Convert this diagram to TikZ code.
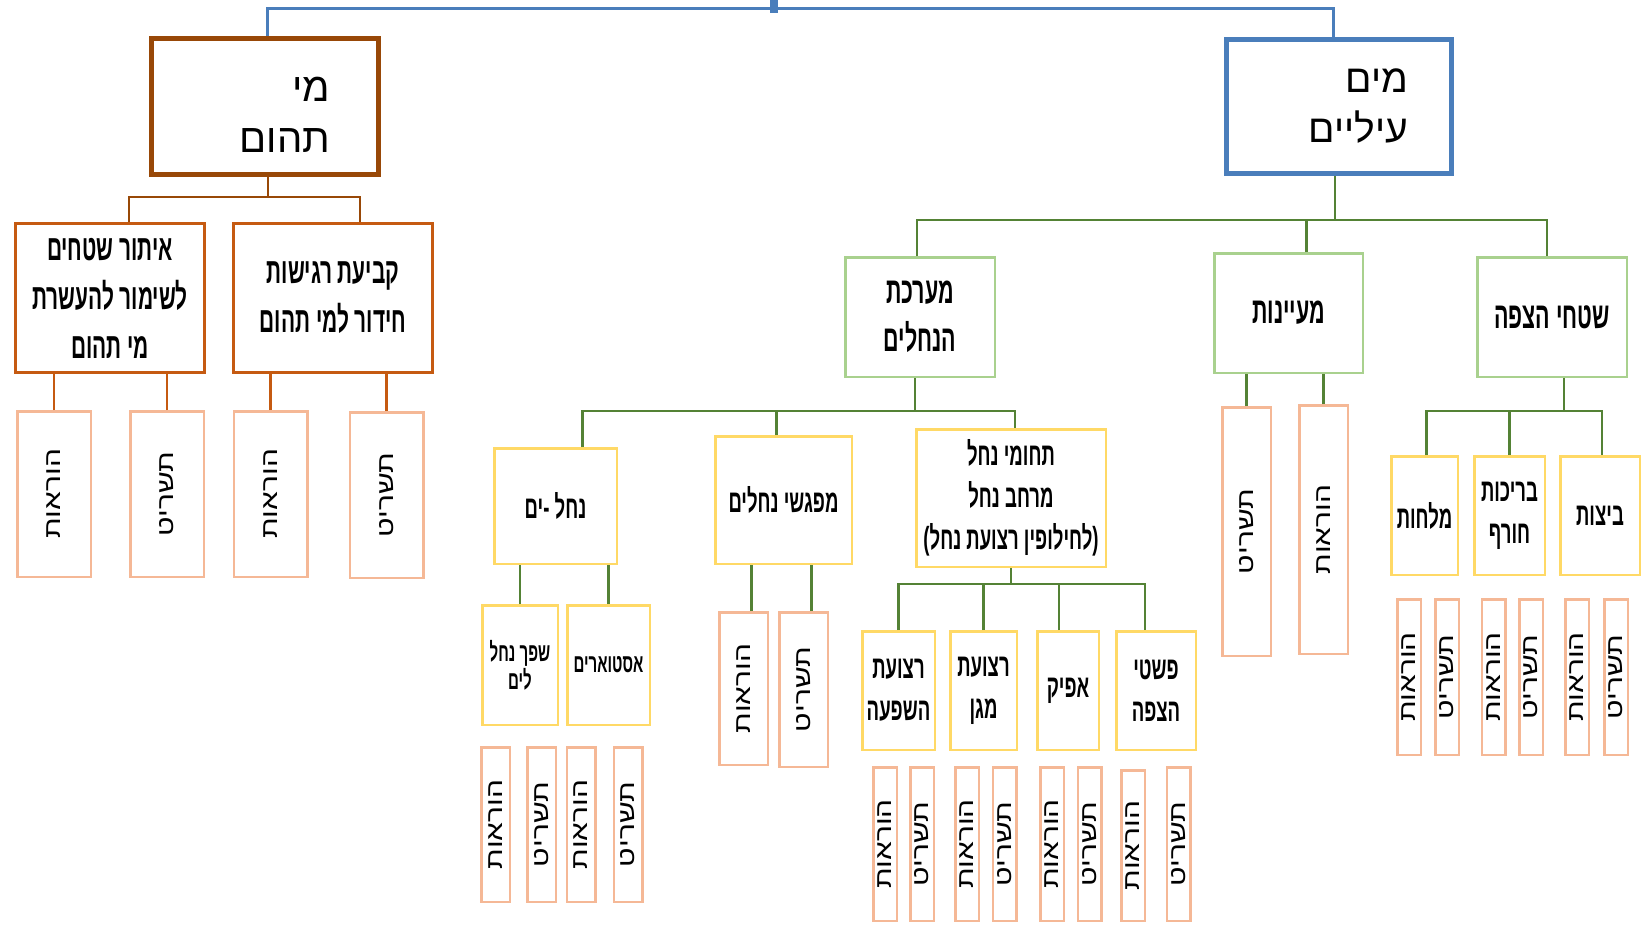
\documentclass[tikz,border=0pt]{standalone}
\usepackage{fontspec}
\usepackage{graphicx}
\TeXXeTstate=1
\newfontfamily\hebfont[Script=Hebrew]{Liberation Sans}
\newfontfamily\hebnarrow[Script=Hebrew,FakeStretch=0.58]{Liberation Sans}
\newfontfamily\hebwide[Script=Hebrew,FakeStretch=1.3]{Liberation Sans}
\usepackage{tikz}
\definecolor{cBlue}{HTML}{4A7EBB}
\definecolor{cBrown}{HTML}{984807}
\definecolor{cOrange}{HTML}{C55A11}
\definecolor{cPeach}{HTML}{F5B896}
\definecolor{cLime}{HTML}{A9D18E}
\definecolor{cGreen}{HTML}{548235}
\definecolor{cGold}{HTML}{FFD966}
\newcommand{\rl}[1]{\beginR#1\endR}
\newcommand{\vrl}[1]{\rotatebox{90}{\rl{#1}}}
\tikzset{
  dims/.style 2 args={minimum width=#1pt,minimum height=#2pt},
  box-top/.style={draw,line width=5pt,inner sep=0pt,align=right},
  box-orange/.style={draw=cOrange,line width=3pt,inner sep=0pt,align=center,
    font=\hebnarrow\bfseries\fontsize{36}{49}\selectfont},
  box-green/.style={draw=cLime,line width=2.5pt,inner sep=0pt,align=center,
    font=\hebnarrow\bfseries\fontsize{37}{48}\selectfont},
  box-gold/.style={draw=cGold,line width=2.5pt,inner sep=0pt,align=center,
    font=\hebnarrow\bfseries\fontsize{32}{42}\selectfont},
  box-small/.style={box-gold,font=\hebnarrow\bfseries\fontsize{26}{28}\selectfont},
  box-leaf/.style={draw=cPeach,line width=2.5pt,inner sep=0pt,
    font=\hebwide\fontsize{23}{26}\selectfont},
  link-blue/.style={draw=cBlue,line width=3pt},
  link-root/.style={draw=cBlue,line width=8pt},
  link-brown/.style={draw=cBrown,line width=2.5pt},
  link-orange/.style={draw=cOrange,line width=2.5pt},
  link-green/.style={draw=cGreen,line width=2.5pt},
}
\begin{document}
\begin{tikzpicture}[x=1pt,y=-1pt]
  \useasboundingbox (0,0) rectangle (1642,932);
  \fill[white] (0,0) rectangle (1642,932);

  % top level
  \node[box-top,draw=cBrown,dims={227}{136},text width=130pt,
    font=\hebfont\fontsize{40}{51}\selectfont] (tehom) at (265,106.5)
    {\rule{0pt}{40pt}\rl{מי}\\\rl{תהום}};
  \node[box-top,draw=cBlue,dims={225}{134},text width=138pt,
    font=\hebfont\fontsize{39}{50}\selectfont] (mayim) at (1339,106.5) {\rl{מים}\\\rl{עיליים}};
  \coordinate (root) at (774,0);
  \coordinate (bus-top) at (774,8);
  \coordinate (stub-end) at (774,13);
  \draw[link-root] (root) -- (stub-end);
  \draw[link-blue] ([xshift=2pt]tehom.north) |- (bus-top) -| ([xshift=-6pt]mayim.north);

  % groundwater branch
  \node[box-orange,dims={189}{149}] (itur) at (110,298)
    {\rl{איתור שטחים}\\\rl{לשימור להעשרת}\\\rl{מי תהום}};
  \node[box-orange,dims={199}{149}] (kviat) at (333,298)
    {\rl{קביעת רגישות}\\\rl{חידור למי תהום}};
  \draw[link-brown] ([xshift=3pt]tehom.south) -- ++(0,20) coordinate (bus-tehom);
  \draw[link-brown] ([xshift=19pt]itur.north) |- (bus-tehom) -| ([xshift=27pt]kviat.north);

  \node[box-leaf,dims={73.5}{165.5}] (itur-hor) at (54,494) {\vrl{הוראות}};
  \node[box-leaf,dims={73.5}{165.5}] (itur-tas) at (167,494) {\vrl{תשריט}};
  \node[box-leaf,dims={73.5}{165.5}] (kviat-hor) at (270.5,494) {\vrl{הוראות}};
  \node[box-leaf,dims={73.5}{165.5}] (kviat-tas) at (386.5,495) {\vrl{תשריט}};
  \draw[link-orange] (itur-hor.north) -- (itur-hor.north |- itur.south);
  \draw[link-orange] (itur-tas.north) -- (itur-tas.north |- itur.south);
  \draw[link-orange] (kviat-hor.north) -- (kviat-hor.north |- kviat.south);
  \draw[link-orange] (kviat-tas.north) -- (kviat-tas.north |- kviat.south);

  % surface water branch
  \node[box-green,dims={149.5}{119.5}] (maarechet) at (920,317) {\rl{מערכת}\\\rl{הנחלים}};
  \node[box-green,dims={148.5}{119.5}] (maayanot) at (1288.5,313) {\rl{מעיינות}};
  \node[box-green,dims={149.5}{119.5}] (shetah) at (1552,317) {\rl{שטחי הצפה}};
  \draw[link-green] ([xshift=-4pt]mayim.south) -- ++(0,44) coordinate (bus-mayim);
  \draw[link-green] ([xshift=-3pt]maarechet.north) |- (bus-mayim) -| ([xshift=-5pt]shetah.north);
  \draw[link-green] ([xshift=18pt]maayanot.north) -- ++(0,-32);

  % springs
  \node[box-leaf,dims={48.5}{248.5}] (maay-tas) at (1246.5,531.5) {\vrl{תשריט}};
  \node[box-leaf,dims={48.5}{248.5}] (maay-hor) at (1323.5,529.5) {\vrl{הוראות}};
  \draw[link-green] (maay-tas.north) -- (maay-tas.north |- maayanot.south);
  \draw[link-green] (maay-hor.north) -- (maay-hor.north |- maayanot.south);

  % flood areas
  \node[box-gold,dims={66.5}{118.5}] (melahot) at (1424.5,515.5) {\rl{מלחות}};
  \node[box-gold,dims={70.5}{118.5}] (brechot) at (1509.5,515.5) {\rl{בריכות}\\\rl{חורף}};
  \node[box-gold,dims={79.5}{118.5}] (bitzot) at (1600,515.5) {\rl{ביצות}};
  \draw[link-green] ([xshift=12pt]shetah.south) -- ++(0,33) coordinate (bus-shetah);
  \draw[link-green] ([xshift=2pt]melahot.north) |- (bus-shetah) -| ([xshift=2pt]bitzot.north);
  \draw[link-green] (brechot.north) -- (brechot.north |- bus-shetah);

  \node[box-leaf,dims={23.5}{155.5}] (melahot-hor) at (1409,677) {\vrl{הוראות}};
  \node[box-leaf,dims={23.5}{155.5}] (melahot-tas) at (1447,677) {\vrl{תשריט}};
  \node[box-leaf,dims={23.5}{155.5}] (brechot-hor) at (1493.5,677) {\vrl{הוראות}};
  \node[box-leaf,dims={23.5}{155.5}] (brechot-tas) at (1531,677) {\vrl{תשריט}};
  \node[box-leaf,dims={23.5}{155.5}] (bitzot-hor) at (1577,677) {\vrl{הוראות}};
  \node[box-leaf,dims={23.5}{155.5}] (bitzot-tas) at (1616,677) {\vrl{תשריט}};

  % streams
  \node[box-gold,dims={122.5}{115.5}] (nahalyam) at (555.5,506) {\rl{נחל -ים}};
  \node[box-gold,dims={136.5}{127.5}] (mifgashim) at (783.5,500) {\rl{מפגשי נחלים}};
  \node[box-gold,dims={189.5}{137.5}] (thumei) at (1011,498)
    {\rl{תחומי נחל}\\\rl{מרחב נחל}\\\rl{(לחילופין רצועת נחל)}};
  \draw[link-green] ([xshift=-5pt]maarechet.south) -- ++(0,33) coordinate (bus-nahalim);
  \draw[link-green] ([xshift=27pt]nahalyam.north) |- (bus-nahalim) -| ([xshift=4pt]thumei.north);
  \draw[link-green] ([xshift=-7pt]mifgashim.north) -- ++(0,-24);

  \node[box-small,dims={75.5}{119.5}] (shefech) at (520,665) {\rl{שפך נחל}\\\rl{לים}};
  \node[box-small,dims={82.5}{119.5}] (estuarim) at (608.5,665) {\rl{אסטוארים}};
  \draw[link-green] (shefech.north) -- (shefech.north |- nahalyam.south);
  \draw[link-green] (estuarim.north) -- (estuarim.north |- nahalyam.south);

  \node[box-leaf,dims={28.5}{154.5}] (shefech-hor) at (495.5,824.5) {\vrl{הוראות}};
  \node[box-leaf,dims={28.5}{154.5}] (shefech-tas) at (541.5,824.5) {\vrl{תשריט}};
  \node[box-leaf,dims={28.5}{154.5}] (estuarim-hor) at (581,824.5) {\vrl{הוראות}};
  \node[box-leaf,dims={28.5}{154.5}] (estuarim-tas) at (628,824.5) {\vrl{תשריט}};

  \node[box-leaf,dims={48.5}{152.5}] (mifgashim-hor) at (743.5,688.5) {\vrl{הוראות}};
  \node[box-leaf,dims={48.5}{154.5}] (mifgashim-tas) at (803.5,689.5) {\vrl{תשריט}};
  \draw[link-green] ([xshift=8pt]mifgashim-hor.north) -- ++(0,-46);
  \draw[link-green] ([xshift=8pt]mifgashim-tas.north) -- ++(0,-46);

  % stream zones
  \node[box-gold,dims={72.5}{118.5}] (hashpaa) at (898.5,690.5) {\rl{רצועת}\\\rl{השפעה}};
  \node[box-gold,dims={66.5}{118.5}] (magen) at (983.5,690.5) {\rl{רצועת}\\\rl{מגן}};
  \node[box-gold,dims={61.5}{118.5}] (afik) at (1068,690.5) {\rl{אפיק}};
  \node[box-gold,dims={79.5}{118.5}] (pashtei) at (1156,690.5) {\rl{פשטי}\\\rl{הצפה}};
  \draw[link-green] (thumei.south) -- ++(0,16) coordinate (bus-thumei);
  \draw[link-green] (hashpaa.north) |- (bus-thumei) -| ([xshift=-11pt]pashtei.north);
  \draw[link-green] (magen.north) -- (magen.north |- bus-thumei);
  \draw[link-green] ([xshift=-9pt]afik.north) -- ++(0,-46);

  \node[box-leaf,dims={23.5}{153.5}] (hashpaa-hor) at (885,844) {\vrl{הוראות}};
  \node[box-leaf,dims={23.5}{153.5}] (hashpaa-tas) at (922,844) {\vrl{תשריט}};
  \node[box-leaf,dims={23.5}{153.5}] (magen-hor) at (967,844) {\vrl{הוראות}};
  \node[box-leaf,dims={23.5}{153.5}] (magen-tas) at (1004.5,844) {\vrl{תשריט}};
  \node[box-leaf,dims={23.5}{153.5}] (afik-hor) at (1052,844) {\vrl{הוראות}};
  \node[box-leaf,dims={23.5}{153.5}] (afik-tas) at (1089.5,844) {\vrl{תשריט}};
  \node[box-leaf,dims={23.5}{150.5}] (pashtei-hor) at (1133,845.5) {\vrl{הוראות}};
  \node[box-leaf,dims={23.5}{153.5}] (pashtei-tas) at (1178.5,844) {\vrl{תשריט}};
\end{tikzpicture}
\end{document}
